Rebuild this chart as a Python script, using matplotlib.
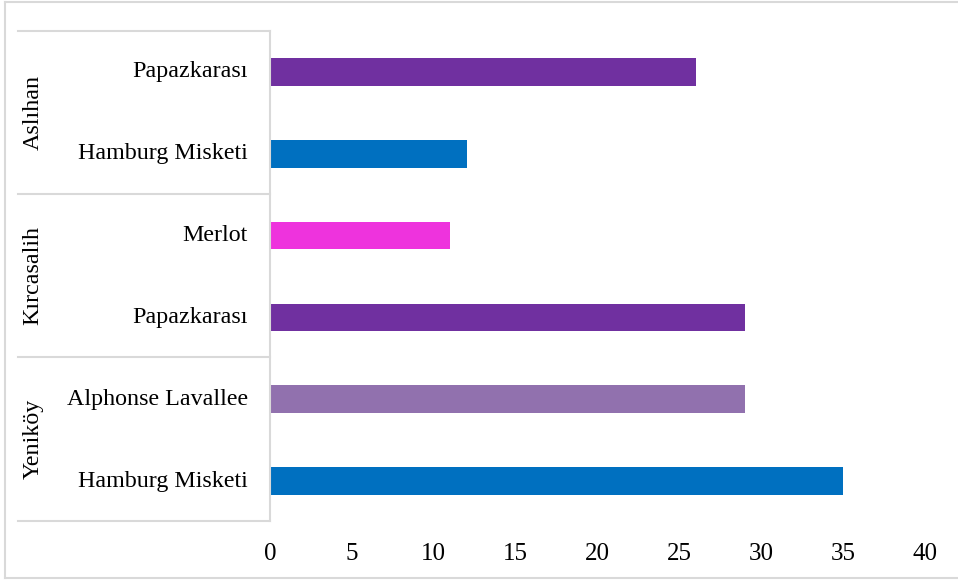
import matplotlib
matplotlib.use("Agg")
import matplotlib.pyplot as plt
from matplotlib.lines import Line2D

plt.rcParams['font.family'] = ['Liberation Serif', 'DejaVu Serif']

# Data (bottom to top)
groups = ["Yeniköy", "Kırcasalih", "Aslıhan"]
categories = ["Hamburg Misketi", "Alphonse Lavallee",
              "Papazkarası", "Merlot",
              "Hamburg Misketi", "Papazkarası"]
values = [35, 29, 29, 11, 12, 26]
colors = ["#0070C0", "#9171AE", "#7030A0", "#EE33DD", "#0070C0", "#7030A0"]
xticks = [0, 5, 10, 15, 20, 25, 30, 35, 40]

W, H = 958, 581
fig = plt.figure(figsize=(W / 100, H / 100), dpi=100)

# axes in pixel coords
ax_l, ax_r, ax_t, ax_b = 270, 925, 31, 522
ax = fig.add_axes([ax_l / W, (H - ax_b) / H, (ax_r - ax_l) / W, (ax_b - ax_t) / H])
ypos = list(range(len(categories)))
ax.barh(ypos, values, height=0.34, color=colors)
ax.set_xlim(0, 40)
ax.set_ylim(-0.5, len(categories) - 0.5)
ax.set_xticks(xticks)
ax.set_xticklabels([str(t) for t in xticks], fontsize=18)
ax.set_yticks([])
for s in ax.spines.values():
    s.set_visible(False)
ax.tick_params(axis='x', length=0, pad=15)

# category labels
for y, c in zip(ypos, categories):
    ax.text(-22 / ((ax_r - ax_l) / 40), y, c, ha='right', va='center', fontsize=17.3)

gc = "#d9d9d9"
def pline(x0, y0, x1, y1, lw=1.5):
    fig.add_artist(Line2D([x0 / W, x1 / W], [1 - y0 / H, 1 - y1 / H],
                          transform=fig.transFigure, color=gc, lw=lw))

# outer border
pline(5, 2, 958, 2)
pline(5, 2, 5, 578)
pline(5, 578, 958, 578)

# category box
seps = [31, 194, 357, 521]
for yy in seps:
    pline(18, yy, 270, yy)
pline(270, 31, 270, 521)

# group labels
for i, g in enumerate(groups):
    top = seps[len(groups) - 1 - i]
    bot = seps[len(groups) - i]
    yc = (top + bot) / 2
    fig.text(33 / W, 1 - yc / H, g, rotation=90, ha='center', va='center', fontsize=17.3)

fig.savefig("out.png", dpi=100)
